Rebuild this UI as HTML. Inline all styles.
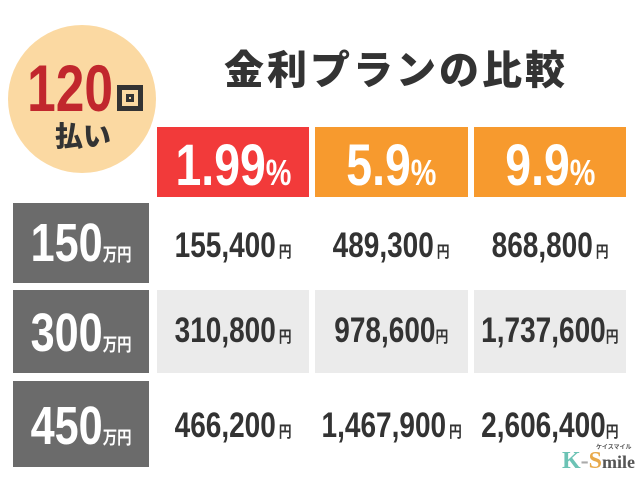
<!DOCTYPE html>
<html><head><meta charset="utf-8"><style>
body{margin:0;width:640px;height:480px;background:#fff;position:relative;overflow:hidden;font-family:"Liberation Sans","Noto Sans CJK JP",sans-serif;font-weight:bold;color:#333}
.a{position:absolute}
.f{display:flex;justify-content:center;white-space:nowrap}
.n{display:inline-block;white-space:nowrap;transform:scaleX(0.8);transform-origin:center;flex:none}
.circ{left:8px;top:25px;width:148px;height:148px;border-radius:50%;background:#fbd9a2}
.hd{top:127px;height:70px;color:#fff;line-height:78px}
.hd span span{font-size:36px}
.lab{left:13px;width:136px;background:#6b6b6b;color:#fff;line-height:1;box-sizing:border-box}
.cell{color:#333}
.cell span span{font-size:16px;font-family:"Noto Sans CJK JP",sans-serif}
.g{background:#ebebeb}
</style></head><body>
<div class="a circ"></div>
<div class="a f" style="left:20px;top:50px;width:100px;font-size:66px;color:#c1272d"><span class="n" style="transform:scaleX(0.78)">120</span></div>
<div class="a" style="left:117px;top:85px;width:26px;height:26px;border:5px solid #333;box-sizing:border-box"><div style="position:absolute;left:4px;top:4px;width:8px;height:8px;border:3px solid #333;box-sizing:border-box"></div></div>
<div class="a" style="left:55px;top:115px;font-size:28px;font-family:'Noto Sans CJK JP',sans-serif;font-weight:900;color:#333">払い</div>
<div class="a" style="left:224px;top:38px;font-size:40px;font-family:'Noto Sans CJK JP',sans-serif;font-weight:900;color:#333;letter-spacing:3px">金利プランの比較</div>
<div class="a hd f" style="left:157px;width:152px;background:#f23a3a"><span class="n" style="font-size:58px">1.99<span>%</span></span></div>
<div class="a hd f" style="left:315px;width:153px;background:#f79a2e"><span class="n" style="font-size:58px">5.9<span>%</span></span></div>
<div class="a hd f" style="left:474px;width:152px;background:#f79a2e"><span class="n" style="font-size:58px">9.9<span>%</span></span></div>

<div class="a lab" style="top:203px;height:80px"></div>
<div class="a lab" style="top:290px;height:83px"></div>
<div class="a lab" style="top:381px;height:86px"></div>
<div class="a f" style="left:13px;width:136px;top:212px;color:#fff;font-size:54px"><span class="n">150<span style="font-size:18px">万円</span></span></div>
<div class="a f" style="left:13px;width:136px;top:302px;color:#fff;font-size:54px"><span class="n">300<span style="font-size:18px">万円</span></span></div>
<div class="a f" style="left:13px;width:136px;top:395px;color:#fff;font-size:54px"><span class="n">450<span style="font-size:18px">万円</span></span></div>

<div class="a g" style="left:157px;top:290px;width:152px;height:83px"></div>
<div class="a g" style="left:315px;top:290px;width:153px;height:83px"></div>
<div class="a g" style="left:474px;top:290px;width:152px;height:83px"></div>

<div class="a cell f" style="left:157px;top:226px;width:152px;font-size:35px"><span class="n">155,400<span> 円</span></span></div>
<div class="a cell f" style="left:315px;top:226px;width:153px;font-size:35px"><span class="n">489,300<span> 円</span></span></div>
<div class="a cell f" style="left:474px;top:226px;width:152px;font-size:35px"><span class="n">868,800<span> 円</span></span></div>
<div class="a cell f" style="left:157px;top:311px;width:152px;font-size:35px"><span class="n">310,800<span> 円</span></span></div>
<div class="a cell f" style="left:315px;top:311px;width:153px;font-size:35px"><span class="n">978,600<span>円</span></span></div>
<div class="a cell f" style="left:474px;top:311px;width:152px;font-size:35px"><span class="n">1,737,600<span>円</span></span></div>
<div class="a cell f" style="left:157px;top:406px;width:152px;font-size:35px"><span class="n">466,200<span> 円</span></span></div>
<div class="a cell f" style="left:315px;top:406px;width:153px;font-size:35px"><span class="n">1,467,900<span> 円</span></span></div>
<div class="a cell f" style="left:474px;top:406px;width:152px;font-size:35px"><span class="n">2,606,400<span>円</span></span></div>

<div class="a" style="left:562px;top:448px;font-size:24px;font-family:'Liberation Serif',serif;color:#6cc3b5">K<span style="color:#aaa">-</span><span style="color:#e8a94a">S</span><span style="color:#555;font-size:18px">mile</span></div>
<div class="a" style="left:596px;top:442px;font-size:6px;color:#555;font-family:'Noto Sans CJK JP',sans-serif">ケイスマイル</div>
</body></html>
